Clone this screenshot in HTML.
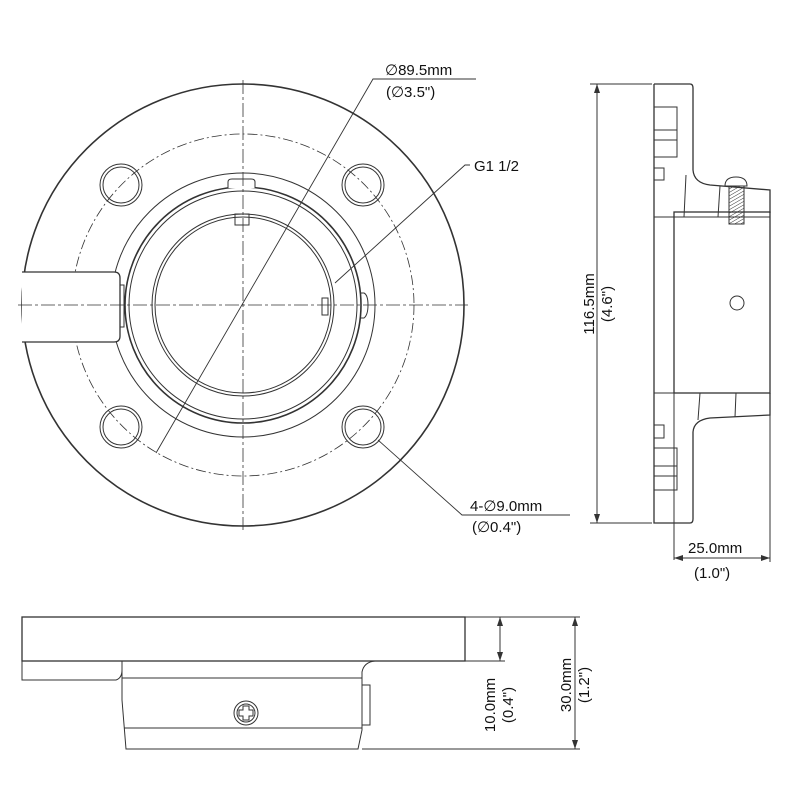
<!DOCTYPE html>
<html><head><meta charset="utf-8"><style>
html,body{margin:0;padding:0;background:#fff;}
svg{display:block;}
text{font-family:"Liberation Sans",sans-serif;font-size:15px;fill:#111;}
</style></head><body>
<svg width="800" height="800" viewBox="0 0 800 800" xmlns="http://www.w3.org/2000/svg">
<defs>
<pattern id="h" width="3" height="3" patternUnits="userSpaceOnUse" patternTransform="rotate(60)"><line x1="0" y1="0" x2="0" y2="3" stroke="#333" stroke-width="1"/></pattern>
</defs>
<g fill="none" stroke="#333" stroke-width="1">
<!-- FRONT VIEW -->
<circle cx="243" cy="305" r="221" stroke-width="1.6"/>
<circle cx="243" cy="305" r="171" stroke-dasharray="10 3 2 3" stroke-width="0.8"/>
<circle cx="243" cy="305" r="132"/>
<circle cx="243" cy="305" r="118" stroke-width="1.6"/>
<circle cx="243" cy="305" r="114"/>
<circle cx="243" cy="305" r="91"/>
<circle cx="243" cy="305" r="88"/>
<g>
<circle cx="121" cy="185" r="21"/><circle cx="121" cy="185" r="18"/>
<circle cx="363" cy="185" r="21"/><circle cx="363" cy="185" r="18"/>
<circle cx="121" cy="427" r="21"/><circle cx="121" cy="427" r="18"/>
<circle cx="363" cy="427" r="21"/><circle cx="363" cy="427" r="18"/>
</g>
<!-- left slot -->
<path d="M22 272 H114 Q120 272 120 278 V336 Q120 342 114 342 H22" fill="#fff" stroke-width="1.3"/>
<path d="M120 285 H124 V327 H120"/>
<!-- tabs -->
<path d="M228 188 V182 Q228 179 232 179 H251 Q255 179 255 182 V188" fill="#fff"/>
<rect x="235" y="214" width="14" height="11"/>
<rect x="322" y="298" width="6" height="17"/>
<path d="M361 293 H364 Q368 295 368 305 Q368 315 364 318 H361"/>
<!-- centerlines -->
<line x1="18" y1="305" x2="468" y2="305" stroke-dasharray="14 3 3 3" stroke-width="0.8"/>
<line x1="243" y1="80" x2="243" y2="530" stroke-dasharray="14 3 3 3" stroke-width="0.8"/>
<!-- diameter & leaders -->
<polyline points="156,453 373,79 476,79" stroke-width="0.9"/>
<polyline points="335,283 465,165 470,165" stroke-width="0.9"/>
<polyline points="378,440 462,515 570,515" stroke-width="0.9"/>

<!-- SIDE VIEW -->
<line x1="597" y1="84" x2="597" y2="523"/>
<line x1="590" y1="84" x2="652" y2="84"/>
<line x1="590" y1="523" x2="652" y2="523"/>
<path d="M654 84 H690 Q693 84 693 88 V170 Q694 183 710 185 L770 190 V213 M654 84 V523 H690 Q693 523 693 519 V432 Q694 420 710 418 L770 415 V393" stroke-width="1.3"/>
<rect x="674" y="212" width="96" height="181" stroke-width="1.3"/>
<line x1="654" y1="217" x2="770" y2="217"/>
<line x1="654" y1="393" x2="770" y2="393"/>
<line x1="674" y1="393" x2="674" y2="560"/>
<line x1="770" y1="393" x2="770" y2="562"/>
<line x1="674" y1="558" x2="770" y2="558"/>
<line x1="686" y1="175" x2="684" y2="217"/>
<line x1="720" y1="186" x2="718" y2="217"/>
<line x1="700" y1="393" x2="698" y2="420"/>
<line x1="736" y1="393" x2="735" y2="417"/>
<rect x="654" y="107" width="23" height="50"/><line x1="654" y1="130" x2="677" y2="130"/><line x1="654" y1="140" x2="677" y2="140"/>
<rect x="654" y="168" width="10" height="12"/>
<rect x="654" y="448" width="23" height="42"/><line x1="654" y1="466" x2="677" y2="466"/><line x1="654" y1="476" x2="677" y2="476"/>
<rect x="654" y="425" width="10" height="13"/>
<circle cx="737" cy="303" r="7"/>
<path d="M725 186 Q725 177 736 177 Q747 177 747 186 Z" fill="#fff"/>
<rect x="729" y="186" width="15" height="38" fill="url(#h)"/>

<!-- BOTTOM VIEW -->
<rect x="22" y="617" width="443" height="44" stroke-width="1.3"/>
<path d="M22 655 V680 H116 Q122 678 122 670 V661" />
<path d="M122 661 V700 L126 749 H358 L362 730 V685 L370 685 V725 L362 725"/>
<path d="M362 685 V672 Q364 662 375 661"/>
<line x1="122" y1="678" x2="362" y2="678"/>
<line x1="124" y1="728" x2="362" y2="728"/>
<circle cx="246" cy="713" r="12"/><circle cx="246" cy="713" r="9"/>
<path d="M243 706 H249 V710 H253 V716 H249 V720 H243 V716 H239 V710 H243 Z"/>
<line x1="465" y1="617" x2="580" y2="617"/>
<line x1="465" y1="661" x2="505" y2="661"/>
<line x1="362" y1="749" x2="580" y2="749"/>
<line x1="500" y1="617" x2="500" y2="661"/>
<line x1="575" y1="617" x2="575" y2="749"/>
</g>
<g fill="#333">
<path d="M597 84 l-3 9 h6z"/><path d="M597 523 l-3 -9 h6z"/>
<path d="M674 558 l9 -3 v6z"/><path d="M770 558 l-9 -3 v6z"/>
<path d="M500 617 l-3 9 h6z"/><path d="M500 661 l-3 -9 h6z"/>
<path d="M575 617 l-3 9 h6z"/><path d="M575 749 l-3 -9 h6z"/>
</g>
<text x="385" y="75">∅89.5mm</text>
<text x="386" y="97">(∅3.5")</text>
<text x="474" y="171">G1 1/2</text>
<text x="470" y="511">4-∅9.0mm</text>
<text x="472" y="532">(∅0.4")</text>
<text x="688" y="553">25.0mm</text>
<text x="694" y="578">(1.0")</text>
<text transform="translate(594,304) rotate(-90)" text-anchor="middle">116.5mm</text>
<text transform="translate(612,304) rotate(-90)" text-anchor="middle">(4.6")</text>
<text transform="translate(495,705) rotate(-90)" text-anchor="middle">10.0mm</text>
<text transform="translate(513,705) rotate(-90)" text-anchor="middle">(0.4")</text>
<text transform="translate(571,685) rotate(-90)" text-anchor="middle">30.0mm</text>
<text transform="translate(589,685) rotate(-90)" text-anchor="middle">(1.2")</text>
</svg>
</body></html>
